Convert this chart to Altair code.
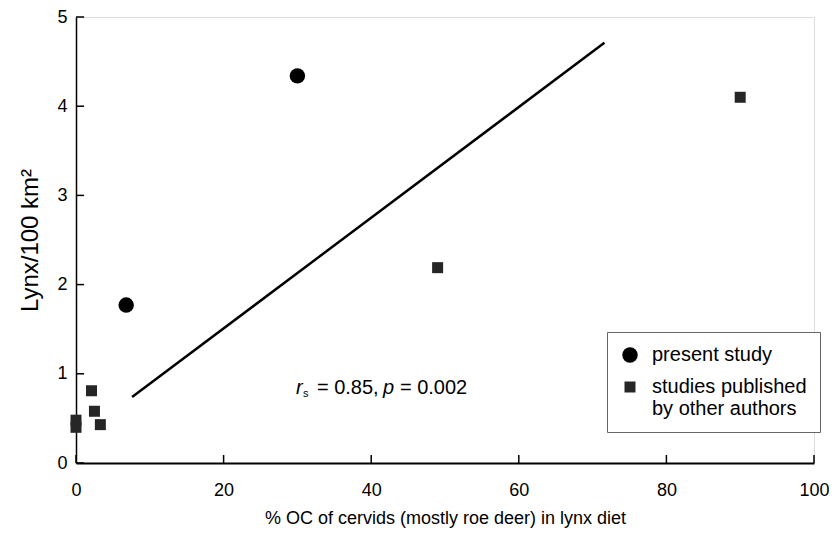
import altair as alt
import pandas as pd

# ---- data ----
groups = ["present study", "studies published by other authors"]
present_x = [6.8, 30.0]
present_y = [1.77, 4.34]
other_x = [0.0, 0.0, 2.1, 2.5, 3.3, 49.0, 90.0]
other_y = [0.48, 0.40, 0.81, 0.58, 0.43, 2.19, 4.10]

fit_x = [7.6, 71.6]
fit_y = [0.74, 4.71]

x_ticks = [0, 20, 40, 60, 80, 100]
y_ticks = [0, 1, 2, 3, 4, 5]

ann_x = [29.8]
ann_y = [0.84]
ann_parts = ["r", "s", "= 0.85,", "p", "= 0.002"]

x_title = "% OC of cervids (mostly roe deer) in lynx diet"
y_title = "Lynx/100 km\u00b2"

FONT = "Liberation Sans"

# ---- tables ----
pts = pd.DataFrame({
    "x": present_x + other_x,
    "y": present_y + other_y,
    "group": [groups[0]] * len(present_x) + [groups[1]] * len(other_x),
})
fit = pd.DataFrame({"x": fit_x, "y": fit_y})
xt = pd.DataFrame({"x": x_ticks})
yt = pd.DataFrame({"y": y_ticks})
ann = pd.DataFrame({"x": ann_x, "y": ann_y})

x_scale = alt.Scale(domain=[0, 100], nice=False, zero=False)
y_scale = alt.Scale(domain=[0, 5], nice=False, zero=False)

x_axis = alt.Axis(values=x_ticks, format="d", ticks=False, grid=False, labelFontSize=18,
                  labelPadding=18, labelFlush=False, labelOverlap=False,
                  titleFontSize=18, titleFontWeight="normal", titlePadding=10,
                  domainColor="black", domainWidth=2, labelColor="black",
                  titleColor="black", labelFont=FONT, titleFont=FONT)
y_axis = alt.Axis(values=y_ticks, format="d", ticks=False, grid=False, labelFontSize=18,
                  labelPadding=9, labelFlush=False, labelOverlap=False,
                  titleFontSize=24, titleFontWeight="normal", titlePadding=14,
                  domainColor="black", domainWidth=1.5, labelColor="black",
                  titleColor="black", labelFont=FONT, titleFont=FONT)

def X(field="x"):
    return alt.X(f"{field}:Q", scale=x_scale, axis=x_axis, title=x_title)

def Y(field="y"):
    return alt.Y(f"{field}:Q", scale=y_scale, axis=y_axis, title=y_title)

legend = alt.Legend(
    title=None, orient="none", legendX=531, legendY=315,
    strokeColor="#666", fillColor="white", padding=13,
    labelFontSize=20, labelFont=FONT, labelColor="black",
    labelOffset=12, rowPadding=12, labelLimit=400,
    labelExpr="datum.label == 'studies published by other authors' ? ['studies published', 'by other authors'] : datum.label",
)

points = alt.Chart(pts).mark_point(filled=True, opacity=1).encode(
    x=X(), y=Y(),
    shape=alt.Shape("group:N", scale=alt.Scale(domain=groups, range=["circle", "square"]), legend=legend),
    color=alt.Color("group:N", scale=alt.Scale(domain=groups, range=["black", "#262626"]), legend=legend),
    size=alt.Size("group:N", scale=alt.Scale(domain=groups, range=[240, 121]), legend=legend),
)

line = alt.Chart(fit).mark_line(color="black", strokeWidth=2.5).encode(x=X(), y=Y())

xticks = alt.Chart(xt).mark_rule(color="black", strokeWidth=1.5).encode(
    x=X(), y=alt.datum(0), y2=alt.datum(0.09))
yticks = alt.Chart(yt).mark_rule(color="black", strokeWidth=1.5).encode(
    y=Y(), x=alt.datum(0), x2=alt.datum(1.1))

base_t = alt.Chart(ann).encode(x=X(), y=Y())
t1 = base_t.mark_text(text=ann_parts[0], align="left", baseline="middle", font=FONT,
                      fontSize=20, fontStyle="italic", dx=0)
t2 = base_t.mark_text(text=ann_parts[1], align="left", baseline="middle", font=FONT,
                      fontSize=11, dx=7, dy=6)
t3 = base_t.mark_text(text=ann_parts[2], align="left", baseline="middle", font=FONT,
                      fontSize=20, dx=21)
t4 = base_t.mark_text(text=ann_parts[3], align="left", baseline="middle", font=FONT,
                      fontSize=20, fontStyle="italic", dx=87)
t5 = base_t.mark_text(text=ann_parts[4], align="left", baseline="middle", font=FONT,
                      fontSize=20, dx=104)

chart = alt.layer(line, xticks, yticks, points, t1, t2, t3, t4, t5).properties(
    width=738, height=446,
    autosize=alt.AutoSizeParams(type="none"),
    padding={"left": 68, "top": 9, "right": 15, "bottom": 65},
).configure_view(stroke=None).configure(font=FONT)

chart.save("out.html", embed_options={"renderer": "svg", "actions": False})
